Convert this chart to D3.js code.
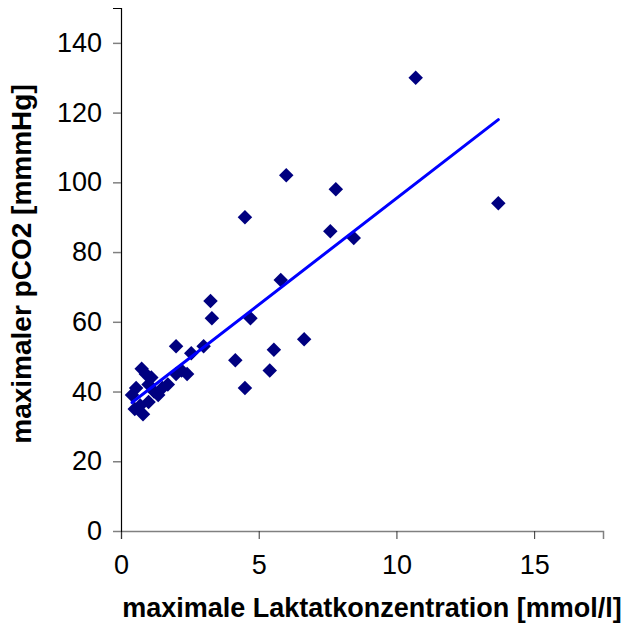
<!DOCTYPE html>
<html>
<head>
<meta charset="utf-8">
<script src="https://cdn.jsdelivr.net/npm/d3@7"></script>
<style>
  body { margin: 0; background: #fff; }
  text { font-family: "Liberation Sans", Arial, sans-serif; }
</style>
</head>
<body>
<script>
'use strict'
// Laktat [mmol/l] vs pCO2 [mmHg]
const laktat = [10.7, 6.0, 7.8, 4.5, 13.7, 7.6, 8.45, 5.8, 3.25, 3.3, 4.7, 3.0, 2.0, 2.55, 4.15, 5.55, 6.65, 5.4, 4.5,
	0.4, 0.55, 0.5, 0.8, 0.7, 1.0, 1.2, 1.35, 1.5, 1.7, 1.0, 0.9, 1.1, 0.75, 2.0, 2.2, 2.4];
const pco2 = [130, 102, 98, 90, 94, 86, 84, 72, 66, 61, 61, 53, 53, 51, 49, 52, 55, 46, 41,
	39, 41, 35, 33.5, 36, 37, 40, 39, 41, 42, 42, 45, 44, 46.5, 45, 46, 45];
const xTicks = [0, 5, 10, 15];
const yTicks = [0, 20, 40, 60, 80, 100, 120, 140];
// trend line
const trendSlope = 6.1;
const trendIntercept = 34.4;

const w = 623;
const h = 633;
const padLeft = 121, padRight = 603, padTop = 8, padBottom = 531;

const xScale = d3.scaleLinear().domain([0, 17.5]).range([padLeft, padRight]);
const yScale = d3.scaleLinear().domain([0, 150]).range([padBottom, padTop]);

const svg = d3.select("body")
	.append("svg")
	.attr("width", w)
	.attr("height", h);

const xAxis = d3.axisBottom(xScale).tickValues(xTicks).tickSize(8).tickPadding(16);
const yAxis = d3.axisLeft(yScale).tickValues(yTicks).tickSize(8).tickPadding(11);

const gx = svg.append("g")
	.attr("transform", "translate(0," + padBottom + ")")
	.call(xAxis);
gx.select(".domain").attr("stroke", "#808080").attr("stroke-width", 1.5);
gx.selectAll(".tick line").attr("stroke", "#333");
gx.selectAll("text").attr("font-size", 27).attr("fill", "#000");

const gy = svg.append("g")
	.attr("transform", "translate(" + padLeft + ",0)")
	.call(yAxis);
gy.select(".domain").attr("stroke", "#000").attr("stroke-width", 1.2);
gy.selectAll(".tick line").attr("stroke", "#808080").attr("stroke-width", 1.5);
gy.selectAll("text").attr("font-size", 27).attr("fill", "#000");

const points = laktat.map((d, i) => [d, pco2[i]]);

svg.selectAll("path.pt")
	.data(points)
	.enter()
	.append("path")
	.attr("class", "pt")
	.attr("d", d3.symbol().type(d3.symbolSquare).size(105))
	.attr("transform", d => "translate(" + xScale(d[0]) + "," + yScale(d[1]) + ") rotate(45)")
	.attr("fill", "#000080");

const xMin = d3.min(laktat), xMax = d3.max(laktat);
svg.append("line")
	.attr("x1", xScale(xMin))
	.attr("y1", yScale(trendIntercept + trendSlope * xMin))
	.attr("x2", xScale(xMax))
	.attr("y2", yScale(trendIntercept + trendSlope * xMax))
	.attr("stroke", "#0000ff")
	.attr("stroke-width", 3)
	.attr("stroke-linecap", "round");

svg.append("text")
	.attr("x", 372)
	.attr("y", 617)
	.attr("text-anchor", "middle")
	.attr("font-size", 27)
	.attr("font-weight", "bold")
	.text("maximale Laktatkonzentration [mmol/l]");

svg.append("text")
	.attr("transform", "translate(31,264) rotate(-90)")
	.attr("text-anchor", "middle")
	.attr("font-size", 28)
	.attr("font-weight", "bold")
	.text("maximaler pCO2 [mmmHg]");
</script>
</body>
</html>
